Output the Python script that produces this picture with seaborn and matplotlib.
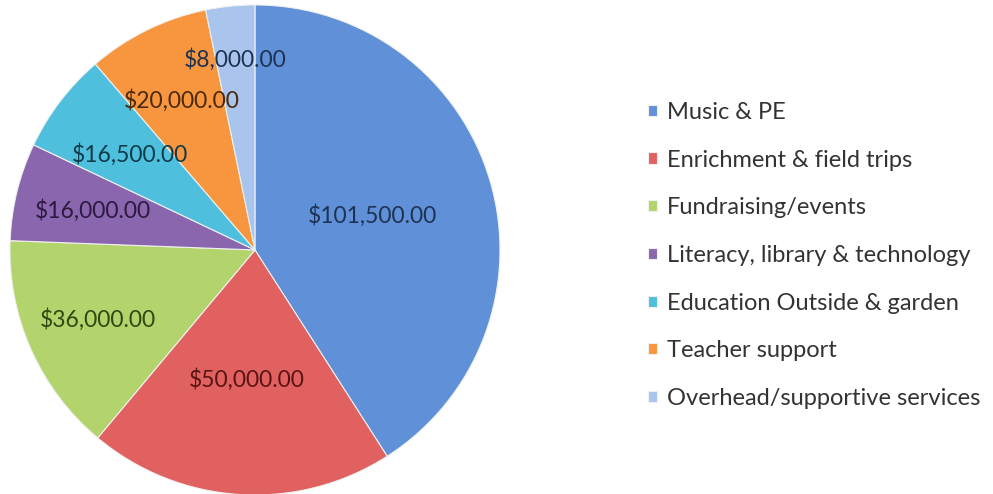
import numpy as np
import seaborn as sns
import matplotlib.pyplot as plt

# =========================
# Data
# =========================
categories = [
    "Music & PE",
    "Enrichment & field trips",
    "Fundraising/events",
    "Literacy, library & technology",
    "Education Outside & garden",
    "Teacher support",
    "Overhead/supportive services",
]
amounts = [101500, 50000, 36000, 16000, 16500, 20000, 8000]
value_labels = [f"${v:,.2f}" for v in amounts]

# =========================
# Style
# =========================
sns.set_theme(style="white")
plt.rcParams["font.family"] = ["Lato", "DejaVu Sans"]

slice_colors = sns.color_palette([
    "#5f90d8", "#e0615f", "#b3d36c", "#8a66ae",
    "#4ebfdc", "#f7963f", "#a9c5ee",
])
text_colors = ["#1e3354", "#5a1414", "#2e4a10", "#2c1a40",
               "#0f3a4a", "#4a2a0a", "#1e3354"]
label_r = [0.50, 0.53, 0.70, 0.68, 0.64, 0.68, 0.78]

fig = plt.figure(figsize=(9.93, 4.94), dpi=100)
ax = fig.add_axes([0.010, -0.002, 0.4935, 0.992])

wedges, _ = ax.pie(
    amounts,
    colors=slice_colors,
    startangle=90,
    counterclock=False,
    radius=1.0,
    wedgeprops={"edgecolor": "#f0f0f0", "linewidth": 0.8},
)
ax.set_xlim(-1, 1)
ax.set_ylim(-1, 1)
ax.set_aspect("equal")

# value labels inside slices
for w, txt, col, r in zip(wedges, value_labels, text_colors, label_r):
    ang = np.deg2rad((w.theta1 + w.theta2) / 2)
    ax.text(r * np.cos(ang), r * np.sin(ang), txt, ha="center", va="center",
            fontsize=16.5, color=col)

fig.legend(
    wedges, categories,
    loc="center left", bbox_to_anchor=(0.641, 0.483),
    frameon=False, fontsize=17,
    handlelength=0.35, handleheight=0.35,
    handletextpad=0.45, labelspacing=1.13, borderpad=0,
    labelcolor="#333333",
)

plt.savefig("out.png", dpi=100)
